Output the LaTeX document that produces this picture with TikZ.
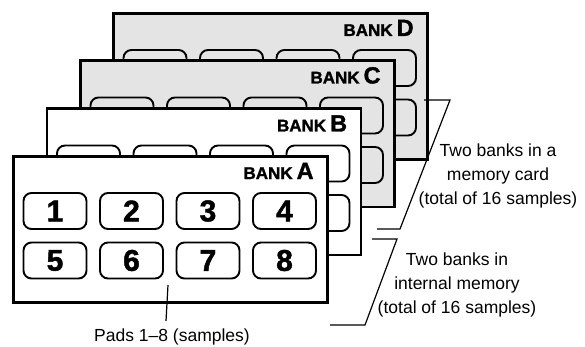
\documentclass[tikz,border=0pt]{standalone}
\usepackage{fontspec}
\setmainfont{Liberation Sans}
\newfontfamily\padfont[BoldFeatures={FakeBold=1.5}]{Liberation Sans}
\usetikzlibrary{positioning}
\definecolor{cardgray}{HTML}{E4E4E4}
\tikzset{
  % pannello di un banco
  bankpanel/.style={draw=black, line width=2.8pt, fill=white, minimum width=314pt,
    minimum height=146pt, inner sep=0pt, anchor=north west},
  % pad di un campione
  pad/.style={draw=black, line width=1.9pt, rounded corners=8pt, minimum width=63pt,
    minimum height=36pt, inner sep=0pt},
  padnum/.style={font=\padfont\fontsize{30}{30}\selectfont\bfseries, inner sep=0pt},
  % nome del banco
  banklbl/.style={anchor=base east, inner sep=0pt, font=\padfont\bfseries},
  % note e linee di richiamo
  note/.style={font=\fontsize{17.5}{24}\selectfont, align=center, inner sep=0pt},
  leader/.style={line width=1.2pt},
}
\begin{document}
\begin{tikzpicture}[x=1pt, y=-1pt]
  \useasboundingbox (0,0) rectangle (585,347);
  % i quattro banchi, dal fondo al davanti
  \foreach \b/\px/\py/\col in {D/112/12/cardgray, C/79/59.5/cardgray,
      B/45.5/107.5/white, A/12/155/white} {
    \node[bankpanel, fill=\col] (bank\b) at (\px,\py) {};
    \foreach \n/\cx/\cy in {1/43/56, 2/119.5/56, 3/196/56, 4/272.5/56,
        5/43/105.5, 6/119.5/105.5, 7/196/105.5, 8/272.5/105.5}
      \node[pad] (pad\b\n) at ([shift={(\cx,\cy)}]bank\b.north west) {};
    \node[banklbl] (lbl\b) at ([shift={(-15,24)}]bank\b.north east)
      {{\fontsize{17}{17}\selectfont BANK}\hspace{4pt}{\fontsize{23.5}{23.5}\selectfont \b}};
  }
  \foreach \n in {1,...,8}
    \node[padnum] (num\n) at (padA\n) {\n};

  \node[note] (cardnote) at (498,176) {Two banks in a\\memory card\\(total of 16 samples)};
  \node[note] (intnote) at (457,285) {Two banks in\\internal memory\\(total of 16 samples)};
  \node[note, anchor=base] (padnote) at (172,341) {Pads 1--8 (samples)};

  \coordinate (cardA) at (424,100); \coordinate (cardB) at (450,100);
  \coordinate (cardC) at (400,229); \coordinate (cardD) at (377,229);
  \coordinate (intA) at (372,239); \coordinate (intB) at (397,239);
  \coordinate (intC) at (365,325); \coordinate (intD) at (330,325);
  \coordinate (padsA) at (168,285); \coordinate (padsB) at (166,321);
  \draw[leader] (cardA) -- (cardB) -- (cardC) -- (cardD);
  \draw[leader] (intA) -- (intB) -- (intC) -- (intD);
  \draw[leader] (padsA) -- (padsB);
\end{tikzpicture}
\end{document}
